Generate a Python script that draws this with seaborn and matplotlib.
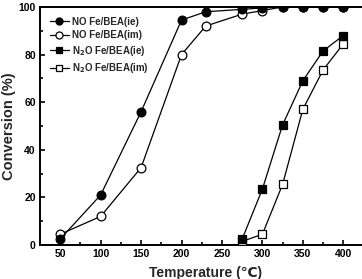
import matplotlib
matplotlib.use("Agg")
import matplotlib.pyplot as plt
import seaborn as sns
import pandas as pd
from matplotlib.ticker import MultipleLocator

sns.set_theme(style="ticks")
plt.rcParams['font.family'] = ['Liberation Sans', 'DejaVu Sans']
plt.rcParams['font.weight'] = 'bold'

temps_no = [50, 100, 150, 200, 230, 275, 300, 325, 350, 375, 400]
no_ie = [2.5, 21, 56, 94.5, 98, 99, 99.6, 100, 100, 100, 100]
no_im = [4.5, 12, 32.5, 80, 92, 97, 98.5, 100, 100, 100, 100]

temps_n2o = [275, 300, 325, 350, 375, 400]
n2o_ie = [2.5, 23.5, 50.5, 69, 81.5, 88]
n2o_im = [1.5, 4.5, 25.5, 57, 73.5, 84.5]

labels = ["NO Fe/BEA(ie)", "NO Fe/BEA(im)", "N$_2$O Fe/BEA(ie)", "N$_2$O Fe/BEA(im)"]

fig = plt.figure(figsize=(3.62, 2.79), dpi=100)
ax = fig.add_axes([0.1105, 0.122, 0.916, 0.853])

series = [
    (temps_no, no_ie, 'o', 'black', 4),
    (temps_no, no_im, 'o', 'white', 3),
    (temps_n2o, n2o_ie, 's', 'black', 4),
    (temps_n2o, n2o_im, 's', 'white', 3),
]
for (x, y, m, fc, z), lab in zip(series, labels):
    df = pd.DataFrame({"T": x, "C": y})
    sns.lineplot(data=df, x="T", y="C", ax=ax, color='black', linewidth=0.9,
                 marker=m, markersize=6.3 if m == 'o' else 5.8,
                 markerfacecolor=fc, markeredgecolor='black', markeredgewidth=0.9,
                 zorder=z, label=lab)
for line in ax.get_lines():
    line.set_clip_on(True)

ax.set_xlim(25, 435)
ax.set_ylim(0, 100)
ax.set_xticks([50, 100, 150, 200, 250, 300, 350, 400])
ax.xaxis.set_minor_locator(MultipleLocator(25))
ax.yaxis.set_major_locator(MultipleLocator(20))
ax.yaxis.set_minor_locator(MultipleLocator(10))
ax.tick_params(which='both', direction='in', width=1.2, colors='black',
               labelsize=7.5, pad=3)
ax.tick_params(which='major', length=3.5)
ax.tick_params(which='minor', length=2)
for lbl in ax.get_xticklabels() + ax.get_yticklabels():
    lbl.set_fontweight('bold')
for s in ax.spines.values():
    s.set_linewidth(1.4)
    s.set_color('black')
ax.spines['right'].set_visible(False)

ax.set_xlabel("Temperature (℃)", fontsize=10, fontweight='bold', labelpad=5)
ax.set_ylabel("Conversion (%)", fontsize=10.5, fontweight='bold', labelpad=2)

h, l = ax.get_legend_handles_labels()
ax.legend(h, l, loc='upper left', frameon=False,
          handlelength=2.0, handletextpad=0.3, labelspacing=0.35,
          borderaxespad=0.6, markerscale=0.8,
          prop={'weight': 'bold', 'size': 7})

fig.savefig("out.png", dpi=100)
